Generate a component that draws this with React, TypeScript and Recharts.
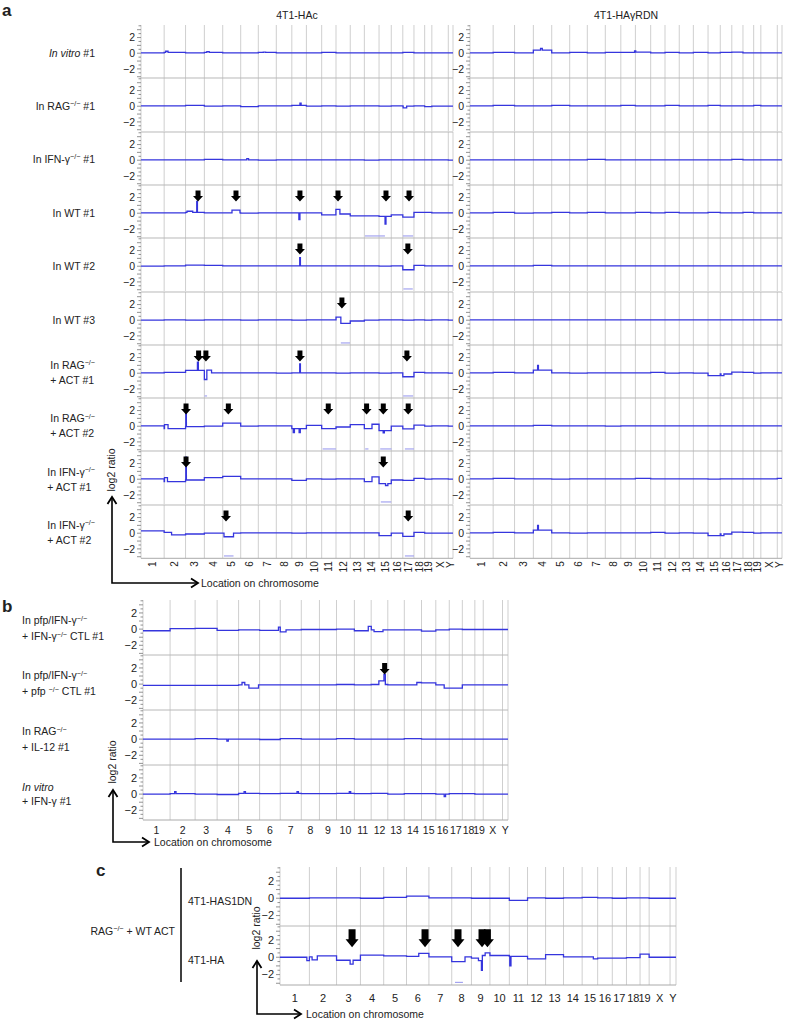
import React from 'react';
import { LineChart, Line, XAxis, YAxis, ReferenceLine, ReferenceDot } from 'recharts';

const FONT = '"Liberation Sans", Arial, Helvetica, sans-serif';

// ---------- genome layout ----------
const chromosomes = ['1','2','3','4','5','6','7','8','9','10','11','12','13','14','15','16','17','18','19','X','Y'];
const chromosomeLengths = [197,182,160,156,153,150,153,132,124,130,122,121,120,125,104,98,95,91,61,140,40];

// ---------- panel a, 4T1-HAc (left column) ----------
const aL1Base = [0.05,0.1,0.05,0.1,0.05,0.05,0.1,0.05,0.05,0.05,0.1,0.05,0.05,0.05,0.05,0.05,0.1,0.05,0.05,0.05,0.05];
const aL1Events = [[210,230,0.25],[560,580,0.2],[1040,1060,0.15]];
const aL2Base = [0.05,0.05,0.1,0,0.05,-0.05,0.05,0.05,0.1,0,0.05,0,0.05,0.05,0,0.05,0,0.05,-0.05,0,0];
const aL2Events = [[1352,1362,0.4],[2230,2260,-0.2]];
const aL3Base = [0.05,0.05,0.05,0.1,0.05,0.05,0,0.05,0.05,0.05,0.05,0.05,0.05,0,0.05,0.05,0.05,0.05,0.05,0.05,0];
const aL3Events = [[900,915,0.2]];
const aL4Base = [0.05,0.05,0.1,0.05,0.05,0,0.05,0.05,0.05,0.05,-0.2,-0.1,-0.35,-0.35,-0.4,-0.2,-0.5,0.1,0.1,0.05,0.05];
const aL4Events = [[391,440,0.25],[474,480,1.5],[774,842,0.4],[1343,1352,-0.8],[1658,1692,0.5],[2076,2084,-1.4]];
const aL4Marks = [[1905,2075],[2228,2315]];
const aL4Arrows = [485,808,1352,1676,2084,2280];
const aL5Base = [0,0.05,0.15,0.1,0.05,0.05,0.05,0.05,0.05,0.05,0.05,0.05,0.05,0.05,0,0.05,-0.45,0.1,0.05,0.05,0.05];
const aL5Events = [[1350,1356,1.1]];
const aL5Marks = [[2232,2312]];
const aL5Arrows = [1352,2270];
const aL6Base = [0,0.05,0,0.05,0.05,0,0.05,0.05,0,0.05,0.05,-0.4,-0.1,0,0.05,0.05,0,0.05,0,0.05,0];
const aL6Events = [[1659,1700,0.4]];
const aL6Marks = [[1700,1778]];
const aL6Arrows = [1709];
const aL7Base = [0.05,0.1,0.35,0.05,0.05,0.05,0.05,0,0.05,0.05,0.05,0,0.05,0.05,0,0.05,-0.45,0.1,0.05,0.05,0];
const aL7Events = [[480,488,1.4],[539,560,-0.8],[560,600,0.4],[1350,1356,1.2]];
const aL7Marks = [[540,562],[2230,2315]];
const aL7Arrows = [490,552,1352,2262];
const aL8Base = [0.05,-0.3,-0.05,0,0.4,0,0.05,0.05,-0.3,0.1,-0.3,-0.1,0.2,-0.3,-0.55,0,-0.35,0.15,0,0.05,0];
const aL8Events = [[200,230,0.2],[381,386,1.7],[1295,1305,-0.8],[1345,1355,-0.8],[1965,2025,0.25],[2060,2070,-0.85]];
const aL8Marks = [[1545,1658],[1907,1935],[2035,2131],[2245,2322]];
const aL8Arrows = [383,743,1593,1919,2061,2273];
const aL9Base = [0.05,-0.3,-0.1,0.2,0.35,0.05,0.05,0.05,-0.15,0.05,0,0.05,0.05,-0.3,-0.55,-0.1,-0.15,0.1,0,0.05,0];
const aL9Events = [[200,225,0.2],[381,386,2.8],[1965,2025,0.3],[2080,2100,-0.8]];
const aL9Marks = [[2040,2129]];
const aL9Arrows = [383,2061];
const aL10Base = [0.3,-0.2,-0.1,0,0,0.05,0.05,0.05,0,0.05,0.05,0.05,0.05,0.05,-0.3,0,-0.4,0.1,0,0,0];
const aL10Events = [[197,260,0.1],[706,787,-0.45]];
const aL10Marks = [[706,787],[2245,2322]];
const aL10Arrows = [723,2273];

// ---------- panel a, 4T1-HAγRDN (right column) ----------
const aR1Base = [0.05,0.1,0.05,0.4,0.05,0.1,0.05,0.1,0.1,0.15,0.05,0.1,0.05,0.1,0.05,0.1,0.15,0.05,0.05,0.05,0.05];
const aR1Events = [[600,615,0.6],[1400,1410,0.3]];
const aR2Base = [0.05,0.1,0.05,0.05,0.1,0.05,0.05,0.05,0.1,0.05,0.05,0.1,0.05,0.05,0.1,0.05,0.05,0.05,0.1,0.05,0.05];
const aR3Base = [0.05,0.05,0.05,0.05,0.05,0.05,0.1,0.05,0.05,0.05,0.05,0.05,0.05,0.05,0.05,0.05,0.1,0.05,0.05,0.05,0.05];
const aR4Base = [0.05,0.1,0,0.05,0.1,0.05,0.1,0.05,0.05,0.1,0.05,0.1,0.05,0.05,0.1,0.05,0.05,0.1,0.05,0.05,0.05];
const aR5Base = [0.05,0.05,0.05,0.1,0.05,0.05,0.05,0.05,0.05,0.05,0.05,0.05,0.05,0.05,0.05,0.05,0.05,0.05,0.05,0.05,0.05];
const aR6Base = [0.05,0.05,0.05,0.05,0.05,0.05,0.05,0.05,0.05,0.05,0.05,0.05,0.05,0.05,0.05,0.05,0.05,0.05,0.05,0.05,0.05];
const aR7Base = [0.05,0.1,0.05,0.4,0.05,0,0.05,0.05,0.05,0.05,0.1,0,0.05,0,-0.3,-0.1,0.15,0.1,0,0.05,0.05];
const aR7Events = [[575,582,1.0],[2135,2160,-0.3]];
const aR8Base = [0.05,0.05,0.05,0.1,0.05,0.05,0.05,0,0.05,0.05,0.05,0.05,0.05,0.05,0.05,0.05,0.05,0.05,0.05,0.05,0.05];
const aR9Base = [0.05,0.1,0.05,0.05,0,0.05,0.05,0.05,0.05,0.1,0.05,0.05,0.05,0.05,0,0.05,0.05,0.05,0.05,0.05,0.1];
const aR10Base = [0.05,0.1,0.05,0.4,0.05,0,0.05,0.05,0.05,0.05,0.1,0,0.05,0,-0.3,-0.1,0.15,0.1,0,0.05,0.05];
const aR10Events = [[575,582,1.0],[2135,2160,-0.3]];

// ---------- panel b ----------
const b1Base = [-0.2,0.05,0.1,-0.15,-0.1,-0.15,-0.1,-0.05,-0.05,0,-0.2,-0.1,-0.1,-0.1,-0.25,-0.1,0,-0.05,-0.05,-0.05,-0.05];
const b1Events = [[985,998,0.25],[998,1040,-0.35],[1638,1660,0.35],[1680,1745,-0.3]];
const b2Base = [-0.15,-0.15,-0.15,-0.15,-0.1,-0.1,-0.1,-0.1,-0.1,-0.05,-0.1,-0.05,-0.1,-0.1,0.15,-0.1,-0.5,-0.1,-0.1,-0.1,-0.1];
const b2Events = [[720,740,0.2],[770,840,-0.5],[1715,1752,0.4],[1752,1762,1.2],[1991,2025,0.2],[2190,2227,-0.5]];
const b2Arrows = [1757];
const b3Base = [0,0,0.05,0,0,-0.05,0.05,0,0,0.05,0,0,0,0.05,0,0,0,0,0,0,0];
const b3Events = [[610,620,-0.25]];
const b4Base = [0,0.05,0,-0.05,0.1,0.05,0.1,0.05,0.05,0.1,0.05,0.1,0,0.05,0.05,0,0.05,0.05,0,0,0];
const b4Events = [[230,240,0.3],[735,745,0.3],[1120,1130,0.3],[1500,1510,0.3],[2190,2200,-0.3]];

// ---------- panel c ----------
const c1Base = [0,0.05,0.05,0,0.1,0.25,0.05,0.05,0,0,-0.25,0.05,0,0.05,0.1,0.05,0,0.05,0.05,0,0];
const c2Base = [0,0.15,-0.35,0.25,0.15,0.1,0.05,-0.5,0.2,0.2,0.1,-0.2,0.3,0.05,0.05,-0.1,-0.1,-0.05,0.35,0,0];
const c2Events = [[180,197,-0.4],[197,215,0.05],[215,250,-0.3],[470,490,-0.8],[930,998,0.45],[1240,1283,0.05],[1283,1330,-0.1],[1330,1350,-0.4],[1350,1356,-1.5],[1356,1375,0.2],[1375,1407,0.5],[1540,1548,-1.0],[2100,2129,-0.2]];
const c2Marks = [[1173,1226]];
const c2Arrows = [483,972,1193,1354,1390];

// ---------- labels ----------
const aTitles = ['4T1-HAc', '4T1-HAγRDN'];
const aLabels = [
  ['_In vitro_ #1'],
  ['In RAG^−/−^ #1'],
  ['In IFN-γ^−/−^ #1'],
  ['In WT #1'],
  ['In WT #2'],
  ['In WT #3'],
  ['In RAG^−/−^', '+ ACT #1'],
  ['In RAG^−/−^', '+ ACT #2'],
  ['In IFN-γ^−/−^', '+ ACT #1'],
  ['In IFN-γ^−/−^', '+ ACT #2'],
];
const bLabels = [
  ['In pfp/IFN-γ^−/−^', '+ IFN-γ^−/−^ CTL #1'],
  ['In pfp/IFN-γ^−/−^', '+ pfp ^−/−^ CTL #1'],
  ['In RAG^−/−^', '+ IL-12 #1'],
  ['_In vitro_', '+ IFN-γ #1'],
];
const cLabels = ['4T1-HAS1DN', '4T1-HA'];
const cGroupLabel = 'RAG^−/−^ + WT ACT';
const axisYLabel = 'log2 ratio';
const axisXLabel = 'Location on chromosome';

// ---------- derived ----------
const chromStarts: number[] = [];
let acc = 0;
chromosomeLengths.forEach((l) => { chromStarts.push(acc); acc += l; });
const GENOME = acc;
const chromBoundaries = [...chromStarts, GENOME];
const chromCenters = chromStarts.map((s, i) => s + chromosomeLengths[i] / 2);
const Y_MIN = -3.2;
const Y_MAX = 3.6;
const yTicks = [-3, -2.5, -2, -1.5, -1, -0.5, 0, 0.5, 1, 1.5, 2, 2.5, 3, 3.5];
const MARK_Y = -2.9;

type Row = { base: number[]; events: number[][]; marks: number[][]; arrows: number[] };
const mk = (base: number[], events: number[][] = [], marks: number[][] = [], arrows: number[] = []): Row => ({ base, events, marks, arrows });

const aLeftRows: Row[] = [
  mk(aL1Base, aL1Events), mk(aL2Base, aL2Events), mk(aL3Base, aL3Events),
  mk(aL4Base, aL4Events, aL4Marks, aL4Arrows), mk(aL5Base, aL5Events, aL5Marks, aL5Arrows),
  mk(aL6Base, aL6Events, aL6Marks, aL6Arrows), mk(aL7Base, aL7Events, aL7Marks, aL7Arrows),
  mk(aL8Base, aL8Events, aL8Marks, aL8Arrows), mk(aL9Base, aL9Events, aL9Marks, aL9Arrows),
  mk(aL10Base, aL10Events, aL10Marks, aL10Arrows),
];
const aRightRows: Row[] = [
  mk(aR1Base, aR1Events), mk(aR2Base), mk(aR3Base), mk(aR4Base), mk(aR5Base),
  mk(aR6Base), mk(aR7Base, aR7Events), mk(aR8Base), mk(aR9Base), mk(aR10Base, aR10Events),
];
const bRows: Row[] = [mk(b1Base, b1Events), mk(b2Base, b2Events, [], b2Arrows), mk(b3Base, b3Events), mk(b4Base, b4Events)];
const cRows: Row[] = [mk(c1Base), mk(c2Base, c2Events, c2Marks, c2Arrows)];

function chromIndex(g: number) {
  for (let i = chromStarts.length - 1; i >= 0; i--) if (g >= chromStarts[i]) return i;
  return 0;
}

function buildTrace(base: number[], events: number[][]) {
  const set = new Set<number>(chromBoundaries);
  events.forEach(([s, e]) => { set.add(s); set.add(e); });
  const pts = Array.from(set).sort((a, b) => a - b);
  const out: { g: number; v: number }[] = [];
  for (let i = 0; i < pts.length - 1; i++) {
    const a = pts[i], b = pts[i + 1], mid = (a + b) / 2;
    let v = base[chromIndex(mid)];
    events.forEach(([s, e, val]) => { if (mid > s && mid < e) v = val; });
    out.push({ g: a, v }, { g: b, v });
  }
  return out;
}

// ---------- rich text ----------
function rich(t: string) {
  const parts = t.split(/(\^[^^]*\^|_[^_]*_)/).filter((p) => p.length > 0);
  return parts.map((p, i) => {
    if (p.startsWith('^')) return <sup key={i} style={{ fontSize: '0.68em', verticalAlign: 'baseline', position: 'relative', top: '-0.5em' }}>{p.slice(1, -1)}</sup>;
    if (p.startsWith('_')) return <i key={i}>{p.slice(1, -1)}</i>;
    return <span key={i}>{p}</span>;
  });
}

// ---------- ticks and shapes ----------
const makeYTick = (fs: number) => (p: any) => {
  const { x, y, payload } = p;
  const v = payload.value;
  const lab = v === 2 ? '2' : v === 0 ? '0' : v === -2 ? '−2' : null;
  const len = Number.isInteger(v) ? 4 : 2.5;
  return (
    <g>
      <line x1={x - len} x2={x} y1={y} y2={y} stroke="#777" strokeWidth={0.8} />
      {lab !== null && (
        <text x={x - 6} y={y} dy={fs * 0.35} textAnchor="end" fontSize={fs} fontFamily={FONT} fill="#222">{lab}</text>
      )}
    </g>
  );
};

const makeXTick = (mode: 'rot' | 'flat', fs: number, dy: number) => (p: any) => {
  const { x, y, payload } = p;
  const i = chromCenters.findIndex((c) => Math.abs(c - payload.value) < 0.01);
  const lab = i >= 0 ? chromosomes[i] : '';
  if (mode === 'rot') {
    return <text x={x} y={y} transform={`rotate(-90 ${x} ${y})`} textAnchor="end" dy={fs * 0.35} fontSize={fs} fontFamily={FONT} fill="#222">{lab}</text>;
  }
  return <text x={x} y={y} dy={dy} textAnchor="middle" fontSize={fs} fontFamily={FONT} fill="#222">{lab}</text>;
};

type ArrowSize = { w: number; hh: number; sw: number; sh: number };
const arrowShape = (s: ArrowSize) => (p: any) => {
  const { cx, cy } = p;
  const d = `M${cx},${cy} L${cx - s.w / 2},${cy - s.hh} L${cx - s.sw / 2},${cy - s.hh} L${cx - s.sw / 2},${cy - s.hh - s.sh} L${cx + s.sw / 2},${cy - s.hh - s.sh} L${cx + s.sw / 2},${cy - s.hh} L${cx + s.w / 2},${cy - s.hh} Z`;
  return <path d={d} fill="#000" />;
};

type TrackProps = {
  x: number; top: number; w: number; h: number; row: Row; first: boolean;
  axis: 'none' | 'rot' | 'flat'; axisH: number; xfs: number; xdy: number; yfs: number;
  arrow: ArrowSize; tip: number;
};

function Track({ x, top, w, h, row, first, axis, axisH, xfs, xdy, yfs, arrow, tip }: TrackProps) {
  const yW = 32;
  const data = buildTrace(row.base, row.events);
  const height = h + 1 + (axis !== 'none' ? axisH : 0);
  return (
    <div style={{ position: 'absolute', left: x - yW, top: top - 1 }}>
      <LineChart width={yW + w + 2} height={height} data={data} margin={{ top: 1, right: 2, bottom: 0, left: 0 }}>
        <XAxis
          type="number" dataKey="g" domain={[0, GENOME]} allowDataOverflow
          ticks={chromCenters} interval={0} hide={axis === 'none'} height={axisH}
          tickSize={0} tickMargin={axis === 'rot' ? 3 : 0} tickLine={false}
          axisLine={{ stroke: '#aaa', strokeWidth: 1 }}
          tick={axis === 'none' ? false : makeXTick(axis, xfs, xdy)}
        />
        <YAxis
          type="number" domain={[Y_MIN, Y_MAX]} allowDataOverflow ticks={yTicks} interval={0}
          width={yW} tickSize={0} tickMargin={0} tickLine={false} axisLine={false} tick={makeYTick(yfs)}
        />
        {chromBoundaries.map((b) => (
          <ReferenceLine key={'b' + b} x={b} stroke="#cfcfcf" strokeWidth={1} ifOverflow="visible" />
        ))}
        {!first && <ReferenceLine y={Y_MAX} stroke="#b8b8b8" strokeWidth={1} ifOverflow="visible" />}
        {row.marks.map(([s, e]) => (
          <ReferenceLine key={'m' + s} segment={[{ x: s, y: MARK_Y }, { x: e, y: MARK_Y }]} stroke="#a3a3f0" strokeWidth={1.2} ifOverflow="visible" />
        ))}
        <Line type="linear" dataKey="v" stroke="#3535dd" strokeWidth={1.3} dot={false} activeDot={false} isAnimationActive={false} />
        {row.arrows.map((g) => (
          <ReferenceDot key={'a' + g} x={g} y={tip} r={1} ifOverflow="visible" shape={arrowShape(arrow)} />
        ))}
      </LineChart>
    </div>
  );
}

function RowLabel({ lines, style }: { lines: string[]; style: React.CSSProperties }) {
  return (
    <div style={{ position: 'absolute', whiteSpace: 'nowrap', transform: 'translateY(-50%)', ...style }}>
      {lines.map((l, i) => <div key={i}>{rich(l)}</div>)}
    </div>
  );
}

const zeroOf = (top: number, h: number) => top + (h * Y_MAX) / (Y_MAX - Y_MIN);

// geometry
const A_LX = 141, A_RX = 470, A_W = 312, A_TOP = 25, A_H = 53.3;
const B_X = 143, B_W = 365, B_TOP = 600, B_H = 55;
const C_X = 280, C_W = 396, C_TOP = 867, C_H = 59;
const ARROW_A = { w: 10, hh: 5.5, sw: 5, sh: 5.5 };
const ARROW_B = { w: 10, hh: 5.5, sw: 5, sh: 6 };
const ARROW_C = { w: 13, hh: 8, sw: 7, sh: 10 };

function LAxes({ x, yBottom, yTop, xRight, labelY, textX, fs }: { x: number; yBottom: number; yTop: number; xRight: number; labelY: number; textX: number; fs: number }) {
  return (
    <g>
      <path d={`M${x},${yTop} L${x},${yBottom} L${xRight},${yBottom}`} fill="none" stroke="#000" strokeWidth={1.6} />
      <path d={`M${x - 4.5},${yTop + 7} L${x},${yTop} L${x + 4.5},${yTop + 7}`} fill="none" stroke="#000" strokeWidth={1.8} />
      <path d={`M${xRight - 7},${yBottom - 4.5} L${xRight},${yBottom} L${xRight - 7},${yBottom + 4.5}`} fill="none" stroke="#000" strokeWidth={1.8} />
      <text x={x - 1} y={labelY} transform={`rotate(-90 ${x - 1} ${labelY})`} textAnchor="middle" dy={fs * 0.35} fontSize={fs} fontFamily={FONT} fill="#222">{axisYLabel}</text>
      <text x={textX} y={yBottom} dy={fs * 0.36} fontSize={fs} fontFamily={FONT} fill="#222">{axisXLabel}</text>
    </g>
  );
}

export default function App() {
  return (
    <div style={{ position: 'absolute', left: 0, top: 0, width: 788, height: 1020, background: '#fff', fontFamily: FONT, color: '#222', overflow: 'hidden' }}>
      {/* panel letters and titles */}
      <div style={{ position: 'absolute', left: 2, top: 1, fontSize: 17, fontWeight: 'bold' }}>a</div>
      <div style={{ position: 'absolute', left: 2, top: 597, fontSize: 17, fontWeight: 'bold' }}>b</div>
      <div style={{ position: 'absolute', left: 96, top: 861, fontSize: 17, fontWeight: 'bold' }}>c</div>
      <div style={{ position: 'absolute', left: A_LX + A_W / 2, top: 15, transform: 'translate(-50%,-50%)', fontSize: 10.5 }}>{aTitles[0]}</div>
      <div style={{ position: 'absolute', left: A_RX + A_W / 2, top: 15, transform: 'translate(-50%,-50%)', fontSize: 10.5 }}>{aTitles[1]}</div>

      {/* panel a labels */}
      {aLabels.map((lines, i) => (
        <RowLabel key={'al' + i} lines={lines} style={{ right: 788 - 95, top: zeroOf(A_TOP + A_H * i, A_H), fontSize: 10.5, lineHeight: '13px' }} />
      ))}
      {/* panel b labels */}
      {bLabels.map((lines, i) => (
        <RowLabel key={'bl' + i} lines={lines} style={{ left: 22, top: zeroOf(B_TOP + B_H * i, B_H), fontSize: 10.5, lineHeight: '14px' }} />
      ))}
      {/* panel c labels */}
      <RowLabel lines={[cGroupLabel]} style={{ right: 788 - 175, top: 931, fontSize: 10.5 }} />
      {cLabels.map((l, i) => (
        <RowLabel key={'cl' + i} lines={[l]} style={{ left: 188, top: zeroOf(C_TOP + C_H * i, C_H) + 3, fontSize: 10.5 }} />
      ))}

      {/* panel a tracks */}
      {aLeftRows.map((row, i) => (
        <Track key={'aL' + i} x={A_LX} top={A_TOP + A_H * i} w={A_W} h={A_H} row={row} first={i === 0}
          axis={i === aLeftRows.length - 1 ? 'rot' : 'none'} axisH={24} xfs={10} xdy={0} yfs={10.5} arrow={ARROW_A} tip={1.5} />
      ))}
      {aRightRows.map((row, i) => (
        <Track key={'aR' + i} x={A_RX} top={A_TOP + A_H * i} w={A_W} h={A_H} row={row} first={i === 0}
          axis={i === aRightRows.length - 1 ? 'rot' : 'none'} axisH={24} xfs={10} xdy={0} yfs={10.5} arrow={ARROW_A} tip={1.5} />
      ))}
      {/* panel b tracks */}
      {bRows.map((row, i) => (
        <Track key={'b' + i} x={B_X} top={B_TOP + B_H * i} w={B_W} h={B_H} row={row} first={i === 0}
          axis={i === bRows.length - 1 ? 'flat' : 'none'} axisH={20} xfs={10.5} xdy={14} yfs={11} arrow={ARROW_B} tip={1.2} />
      ))}
      {/* panel c tracks */}
      {cRows.map((row, i) => (
        <Track key={'c' + i} x={C_X} top={C_TOP + C_H * i} w={C_W} h={C_H} row={row} first={i === 0}
          axis={i === cRows.length - 1 ? 'flat' : 'none'} axisH={24} xfs={11} xdy={17} yfs={11} arrow={ARROW_C} tip={1.15} />
      ))}

      {/* decorations: axis arrows, bracket */}
      <svg width={788} height={1020} style={{ position: 'absolute', left: 0, top: 0, pointerEvents: 'none' }}>
        <LAxes x={112} yTop={497} yBottom={583} xRight={198} labelY={470} textX={201} fs={10.5} />
        <LAxes x={113} yTop={790} yBottom={842} xRight={149} labelY={762} textX={154} fs={10.5} />
        <LAxes x={257} yTop={961} yBottom={1014} xRight={301} labelY={928} textX={306} fs={10.5} />
        <line x1={181} x2={181} y1={868} y2={982} stroke="#000" strokeWidth={1.5} />
      </svg>
    </div>
  );
}
